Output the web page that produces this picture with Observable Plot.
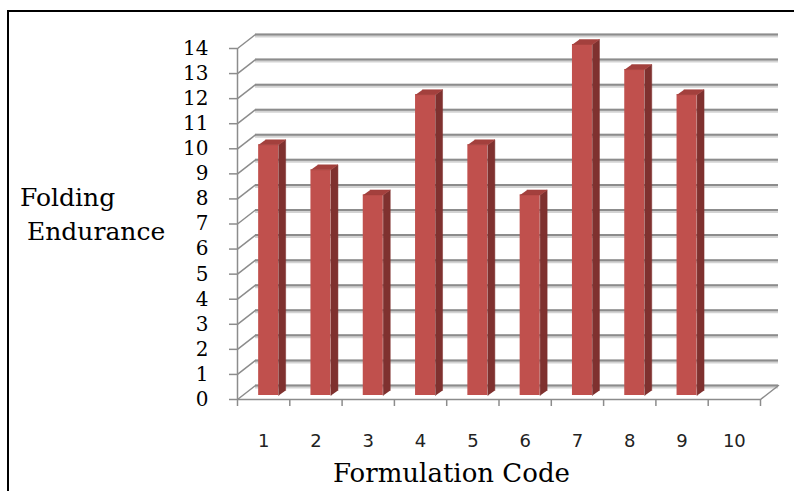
<!DOCTYPE html>
<html>
<head>
<meta charset="utf-8">
<script src="https://cdn.jsdelivr.net/npm/d3@7"></script>
<script src="https://cdn.jsdelivr.net/npm/@observablehq/plot@0.6"></script>
<style>
  html, body { margin: 0; padding: 0; background: #fff; }
  #wrap { position: relative; width: 794px; height: 491px; overflow: hidden; background: #fff; }
  #frame { position: absolute; left: 7px; top: 10px; width: 800px; height: 500px;
           border-left: 2px solid #000; border-top: 2px solid #000; pointer-events: none; }
  #wrap svg { position: absolute; left: 0; top: 0; }
</style>
</head>
<body>
<div id="wrap"><div id="frame"></div></div>
<script>
// ---- data ----
const categories = [1, 2, 3, 4, 5, 6, 7, 8, 9, 10];
const values = [10, 9, 8, 12, 10, 8, 14, 13, 12, null];
const yTicks = [0, 1, 2, 3, 4, 5, 6, 7, 8, 9, 10, 11, 12, 13, 14];
const xTickLabels = ["1", "2", "3", "4", "5", "6", "7", "8", "9", "10"];
const yTitleLines = ["Folding", "Endurance"];
const xTitle = "Formulation Code";

// ---- layout (pixels) ----
const W = 794, H = 491;
const fLeft = 237, fRight = 760, fBottom = 399, fTop = 48;
const pxX = (fRight - fLeft) / categories.length;
const pxY = (fBottom - fTop) / (yTicks[yTicks.length - 1] - yTicks[0]);
const toX = p => p / pxX, toY = p => p / pxY;
const wallDX = toX(18), wallDY = toY(14);      // depth of back wall
const barHalf = toX(10);                        // half front width of a bar
const barDX = toX(7), barDY = toY(5);           // depth of a bar
const barShift = [5, -4];                       // bar sits a bit behind the front plane
const x0 = categories[0] - 0.5, x1 = categories[categories.length - 1] + 0.5;

const bars = categories.map((c, i) => ({c, v: values[i]})).filter(d => d.v != null);
const sidePts = bars.flatMap((d, i) => [
  {id: i, x: d.c + barHalf, y: 0},
  {id: i, x: d.c + barHalf, y: d.v},
  {id: i, x: d.c + barHalf + barDX, y: d.v + barDY},
  {id: i, x: d.c + barHalf + barDX, y: barDY}
]);
const topPts = bars.flatMap((d, i) => [
  {id: i, x: d.c - barHalf, y: d.v},
  {id: i, x: d.c + barHalf, y: d.v},
  {id: i, x: d.c + barHalf + barDX, y: d.v + barDY},
  {id: i, x: d.c - barHalf + barDX, y: d.v + barDY}
]);
const floorPts = [{x: x0, y: 0}, {x: x1, y: 0}, {x: x1 + wallDX, y: wallDY}];
const xBounds = categories.map(c => c - 0.5).concat([x1]);

const grid = "#8c8c8c", halo = "#d3d3d3";

const chart = Plot.plot({
  width: W, height: H,
  marginLeft: fLeft, marginRight: W - fRight, marginTop: fTop, marginBottom: H - fBottom,
  x: {type: "linear", domain: [x0, x1], axis: null},
  y: {domain: [yTicks[0], yTicks[yTicks.length - 1]], axis: null},
  style: {background: "transparent", overflow: "visible"},
  marks: [
    Plot.ruleY(yTicks, {x1: x0 + wallDX, x2: x1 + wallDX, y: d => d + wallDY, stroke: halo, strokeWidth: 4, dy: 1}),
    Plot.ruleY(yTicks, {x1: x0 + wallDX, x2: x1 + wallDX, y: d => d + wallDY, stroke: grid, strokeWidth: 2}),
    Plot.link(yTicks, {x1: x0, y1: d => d, x2: x0 + wallDX, y2: d => d + wallDY, stroke: grid, strokeWidth: 1.5}),
    Plot.line(floorPts, {x: "x", y: "y", stroke: grid, strokeWidth: 1.5}),
    Plot.ruleX([x0], {y1: yTicks[0], y2: yTicks[yTicks.length - 1], stroke: grid, strokeWidth: 1.5}),
    Plot.ruleY(yTicks, {x1: x0 - toX(8), x2: x0, y: d => d, stroke: grid, strokeWidth: 1.5}),
    Plot.ruleX(xBounds, {x: d => d, y1: 0, y2: -toY(7), stroke: grid, strokeWidth: 1.5}),
    Plot.rectY(bars, {x1: d => d.c - barHalf, x2: d => d.c + barHalf, y1: 0, y2: "v",
      fill: "#C0504D", dx: barShift[0], dy: barShift[1]}),
    Plot.line(sidePts, {x: "x", y: "y", z: "id", fill: "#7f312f", stroke: "#7f312f", strokeWidth: 0.5,
      dx: barShift[0], dy: barShift[1]}),
    Plot.line(topPts, {x: "x", y: "y", z: "id", fill: "#a3403d", stroke: "#a3403d", strokeWidth: 0.5,
      dx: barShift[0], dy: barShift[1]}),
    Plot.text(yTicks, {x: x0, y: d => d, text: d => String(d), textAnchor: "end", dx: -29,
      fontFamily: "DejaVu Serif", fontSize: 20, fill: "#000"}),
    Plot.text(categories, {x: d => d, y: 0, text: (d, i) => xTickLabels[i], dy: 42,
      fontFamily: "DejaVu Sans", fontSize: 18, fill: "#222"})
  ]
});

const svg = d3.select(chart);
const titles = [
  {t: yTitleLines[0], x: 20, y: 206, s: 25},
  {t: yTitleLines[1], x: 27, y: 240, s: 25},
  {t: xTitle, x: 333, y: 482, s: 26}
];
svg.append("g").attr("text-anchor", "start").selectAll("text").data(titles).join("text")
  .attr("x", d => d.x).attr("y", d => d.y)
  .attr("font-family", "DejaVu Serif").attr("font-size", d => d.s).attr("fill", "#000")
  .text(d => d.t);

document.getElementById("wrap").insertBefore(chart, document.getElementById("frame"));
</script>
</body>
</html>
